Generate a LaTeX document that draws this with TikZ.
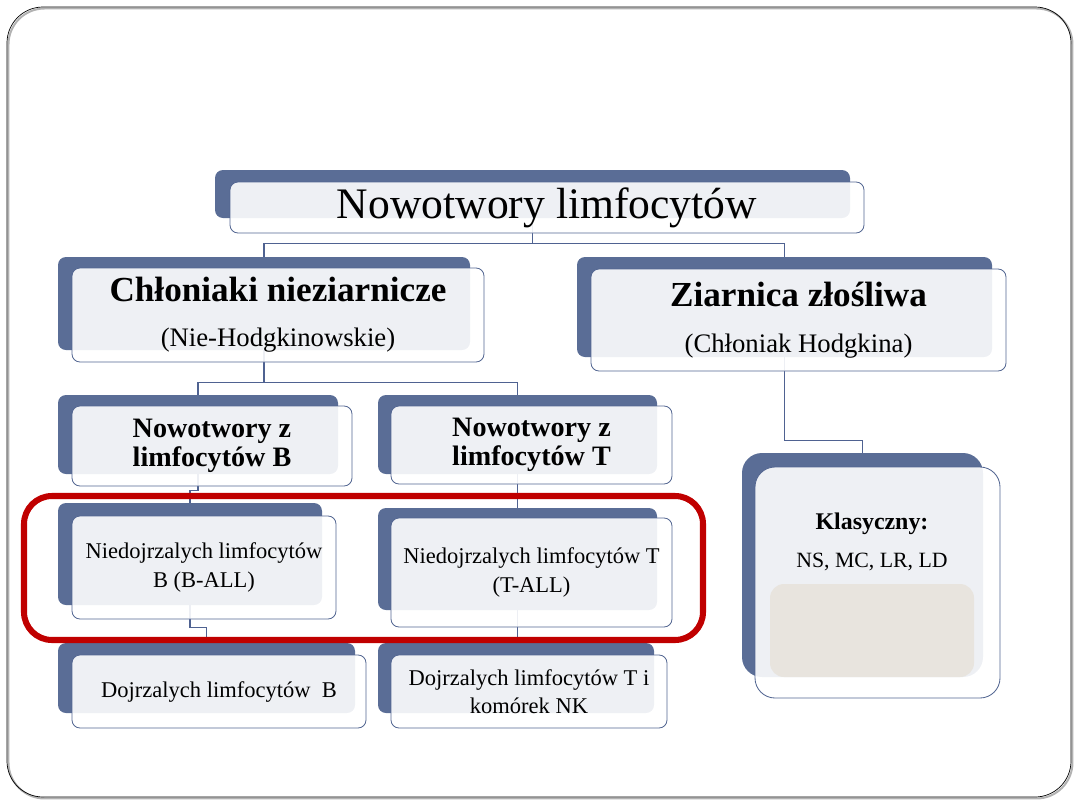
\documentclass[tikz,border=0pt]{standalone}
\usepackage{fontspec}
\setmainfont{Liberation Serif}
\usepackage{tikz}
\pgfdeclarelayer{bg}
\pgfsetlayers{bg,main}

\definecolor{boxblue}{RGB}{90,109,150}
\definecolor{edgeblue}{RGB}{84,103,146}
\definecolor{linkblue}{RGB}{79,98,145}
\definecolor{alertred}{RGB}{192,0,0}
\definecolor{sandbox}{RGB}{232,228,222}

\tikzset{
  backbox/.style={fill=boxblue, rounded corners=0.2cm, inner sep=0pt},
  frontbox/.style={draw=edgeblue, line width=0.6pt, fill=white, fill opacity=0.9,
    text opacity=1, rounded corners=0.2cm, inner sep=0pt, align=center},
  wh/.style 2 args={minimum width=#1*0.025cm, minimum height=#2*0.025cm},
  link/.style={draw=linkblue, line width=0.8pt},
}

\begin{document}
\begin{tikzpicture}[x=0.025cm, y=-0.025cm]

    % Slide size (px)
    \useasboundingbox (0,0) rectangle (1080,810);

    % Slide frame with shadow
    \draw[gray!60, line width=1.4pt, rounded corners=0.9cm] (8.5,8.5) rectangle (1072.5,798.5);
    \draw[black, line width=0.5pt, rounded corners=0.9cm] (7,7) rectangle (1071,797);

    % Back tabs
    \node[backbox, wh={635}{48}]  (nowB)  at (532.5,194) {};
    \node[backbox, wh={412}{93}]  (chlB)  at (264,303.5) {};
    \node[backbox, wh={415}{100}] (ziaB)  at (784.5,307) {};
    \node[backbox, wh={280}{79}]  (ntbB)  at (198,434.5) {};
    \node[backbox, wh={279}{79}]  (nttB)  at (517.5,434.5) {};
    \node[backbox, wh={264}{102}] (allbB) at (190,554) {};
    \node[backbox, wh={279}{102}] (alltB) at (517.5,559) {};
    \node[backbox, wh={297}{70}]  (dojbB) at (206.5,678) {};
    \node[backbox, wh={276}{70}]  (dojtB) at (516,678) {};
    \node[backbox, wh={241}{224}, rounded corners=0.5cm] (klaB) at (862.5,565) {};

    % Front boxes
    \node[frontbox, wh={634}{51}, font=\fontsize{31}{37}\selectfont] (now) at (547,207.5)
      {Nowotwory limfocytów};
    \node[frontbox, wh={412}{94}, font=\fontsize{19}{23}\selectfont] (chl) at (278,315)
      {{\bfseries\fontsize{25}{30}\selectfont Chłoniaki nieziarnicze}\\[9pt](Nie-Hodgkinowskie)};
    \node[frontbox, wh={415}{102}, font=\fontsize{19}{23}\selectfont] (zia) at (798.5,320)
      {{\bfseries\fontsize{25}{30}\selectfont Ziarnica złośliwa}\\[10pt](Chłoniak Hodgkina)};
    \node[frontbox, wh={280}{80}, font=\bfseries\fontsize{20}{21}\selectfont] (ntb) at (212,446)
      {Nowotwory z\\limfocytów B};
    \node[frontbox, wh={281}{78}, font=\bfseries\fontsize{20}{21}\selectfont] (ntt) at (531.5,445)
      {Nowotwory z\\limfocytów T};
    \node[frontbox, wh={264}{103}, font=\fontsize{16}{20}\selectfont] (allb) at (204,567.5)
      {Niedojrzalych limfocytów\\B (B-ALL)};
    \node[frontbox, wh={281}{109}, font=\fontsize{16}{21}\selectfont] (allt) at (531.5,572.5)
      {Niedojrzalych limfocytów T\\(T-ALL)};
    \node[frontbox, wh={294}{73}, font=\fontsize{16}{20}\selectfont] (dojb) at (219,691.5)
      {Dojrzalych limfocytów~~B};
    \node[frontbox, wh={276}{73}, font=\fontsize{16}{19.5}\selectfont] (dojt) at (529,691.5)
      {Dojrzalych limfocytów T i\\komórek NK};
    \node[frontbox, wh={245}{231}, rounded corners=0.5cm] (kla) at (877.5,582.5) {};
    \node[fill=sandbox, rounded corners=0.35cm, inner sep=0pt, wh={204}{93}] (klaIn) at (872,630.5) {};
    \node[align=center, font=\fontsize{15.5}{27}\selectfont] (klaT) at (872,542)
      {{\bfseries\fontsize{17}{27}\selectfont Klasyczny:}\\NS, MC, LR, LD};

    % Connectors
    \begin{pgfonlayer}{bg}
    \draw[link] (nowB.south) -- ++(0,25) coordinate (j1);
    \draw[link] (chlB.north) |- (j1) -| (ziaB.north);
    \draw[link] (chlB.south) -- ++(0,32) coordinate (j2);
    \draw[link] (ntbB.north) |- (j2) -| (nttB.north);
    \draw[link] (ntbB.south) -- ++(0,16) -| (allbB.north);
    \draw[link] (nttB.south) -- (alltB.north);
    \draw[link] (allbB.south) -- ++(0,22) -| (dojbB.north);
    \draw[link] (alltB.south) -- (alltB.south |- dojtB.north);
    \draw[link] (ziaB.south) -- ++(0,83) -| (klaB.north);
    \end{pgfonlayer}

    % Highlight round the immature group
    \draw[alertred, line width=4.3pt, rounded corners=0.7cm] (24,496) rectangle (703,640);

\end{tikzpicture}
\end{document}
